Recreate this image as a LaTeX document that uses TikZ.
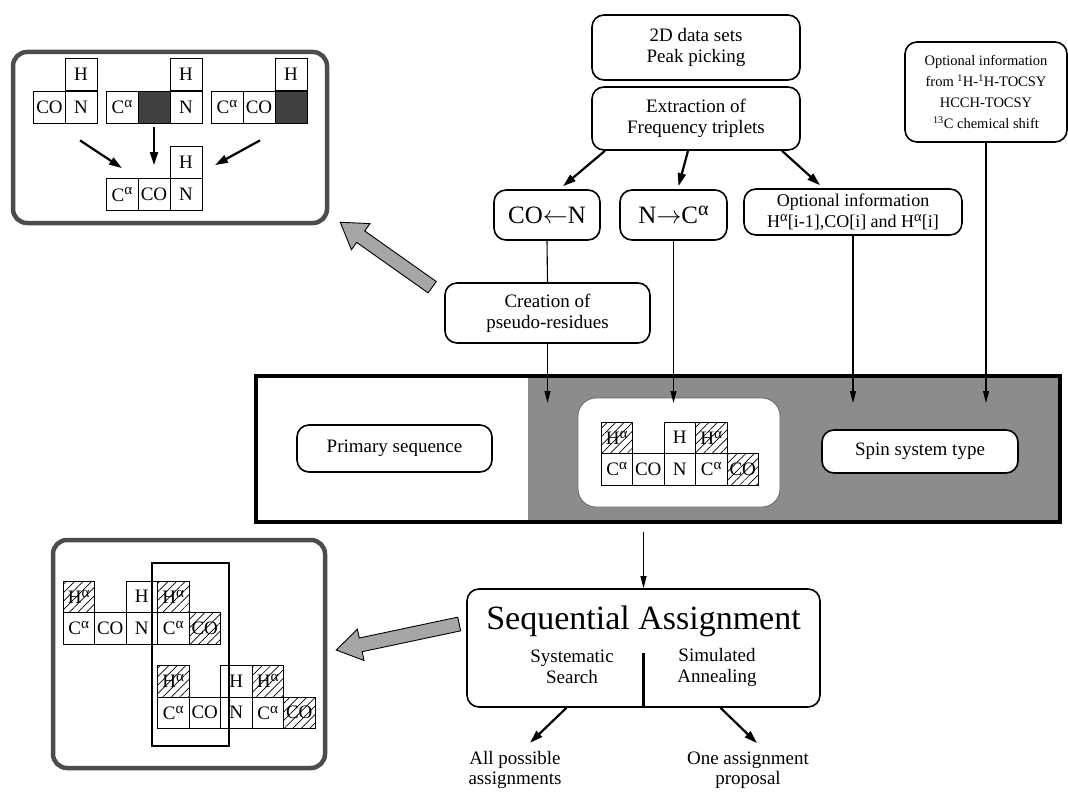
\documentclass[tikz,border=0pt]{standalone}
\usepackage{fontspec}
\setmainfont{Liberation Serif}
\usepackage{amsmath}
\usetikzlibrary{arrows.meta,calc,patterns.meta}

\newcommand{\al}{\raisebox{0.33em}{\scalebox{0.8}{α}}}

\tikzset{
  box/.style={draw, rounded corners=12pt, line width=1.6pt, align=center, inner sep=2pt, font=\fontsize{19}{21}\selectfont},
  cell/.style={draw, line width=0.8pt, minimum size=31.5pt, inner sep=0pt, font=\fontsize{19}{19}\selectfont},
  bigcell/.style={cell, minimum size=32pt},
  hatch/.style={pattern={Lines[angle=45,distance=6pt,line width=0.7pt]}},
  dark/.style={fill=black!75},
  frame/.style={draw=black!70, line width=4.5pt, rounded corners=14pt},
  arr/.style={line width=2.2pt, -{Triangle[length=13pt,width=8pt]}},
  link/.style={line width=1.1pt},
  thinarr/.style={line width=1.1pt, -{Triangle[length=12pt,width=6pt]}},
  fat/.style={draw=black, line width=0.9pt, fill=black!35},
}

% one pseudo-residue strip: prefix, left edge, top edge
\newcommand{\resstrip}[3]{%
  \node[cell,hatch] (#1ha1) at (#2+15.75,#3+15.75) {H\al};
  \node[cell] (#1h) at (#2+78.75,#3+15.75) {H};
  \node[cell,hatch] (#1ha2) at (#2+110.25,#3+15.75) {H\al};
  \node[cell] (#1ca1) at (#2+15.75,#3+47.25) {C\al};
  \node[cell] (#1co1) at (#2+47.25,#3+47.25) {CO};
  \node[cell] (#1n) at (#2+78.75,#3+47.25) {N};
  \node[cell] (#1ca2) at (#2+110.25,#3+47.25) {C\al};
  \node[cell,hatch] (#1co2) at (#2+141.75,#3+47.25) {CO};
}

% broad shaded arrow from #1 (tail) to #2 (tip)
\newcommand{\fatarrow}[2]{%
  \path (#2) coordinate (fh) ($(#2)!25pt!(#1)$) coordinate (fb);
  \filldraw[fat] ($(#1)!7pt!90:(#2)$) -- ($(fb)!7pt!-90:(#1)$) -- ($(fb)!16pt!-90:(#1)$)
    -- (fh) -- ($(fb)!16pt!90:(#1)$) -- ($(fb)!7pt!90:(#1)$) -- ($(#1)!7pt!-90:(#2)$) -- cycle;
}

\begin{document}
\begin{tikzpicture}[x=1pt,y=-1pt]
  \useasboundingbox (0,0) rectangle (1068,792);

  % merging of triplets
  \node[frame, minimum width=314pt, minimum height=171pt] (tlbox) at (170,137.5) {};
  \node[bigcell] (g1h) at (81,74.5) {H};
  \node[bigcell] (g1co) at (49.5,107) {CO};
  \node[bigcell] (g1n) at (81,107) {N};
  \node[bigcell] (g2ca) at (122,107) {C\al};
  \node[bigcell,dark] (g2x) at (154,107) {};
  \node[bigcell] (g2n) at (186,107) {N};
  \node[bigcell] (g2h) at (186,74.5) {H};
  \node[bigcell] (g3ca) at (227,107) {C\al};
  \node[bigcell] (g3co) at (259,107) {CO};
  \node[bigcell,dark] (g3x) at (291,107) {};
  \node[bigcell] (g3h) at (291,74.5) {H};
  \node[bigcell] (g4h) at (186,162.5) {H};
  \node[bigcell] (g4ca) at (122,194.5) {C\al};
  \node[bigcell] (g4co) at (154,194.5) {CO};
  \node[bigcell] (g4n) at (186,194.5) {N};
  \draw[arr] ($(g1n.south)+(-1,17)$) -- ($(g4ca.north)+(0,-10)$);
  \draw[arr] ($(g2x.south)+(0,4)$) -- ($(g4co.north)+(0,-13)$);
  \draw[arr] ($(g3co.south)+(1,17)$) -- ($(g4n.north)+(29,-13)$);

  % data flow
  \node[box, minimum width=208pt, minimum height=65pt] (peak) at (696,47.5) {2D data sets\\Peak picking};
  \node[box, minimum width=208pt, minimum height=63pt] (extr) at (696,118.5) {Extraction of\\Frequency triplets};
  \node[box, minimum width=162pt, minimum height=100pt, font=\fontsize{14.5}{21}\selectfont] (optr) at (986,92)
    {Optional information\\from \textsuperscript{1}H-\textsuperscript{1}H-TOCSY\\HCCH-TOCSY\\\textsuperscript{13}C chemical shift};
  \node[box, minimum width=106pt, minimum height=50pt, font=\fontsize{25}{25}\selectfont] (con) at (547,215) {CO$\leftarrow$N};
  \node[box, minimum width=107pt, minimum height=50pt, font=\fontsize{25}{25}\selectfont] (nca) at (673.5,215) {N$\rightarrow$C\al};
  \node[box, minimum width=218pt, minimum height=46pt, font=\fontsize{18}{21}\selectfont, inner sep=1pt] (opt) at (853,212)
    {Optional information\\H\al[i-1],CO[i] and H\al[i]};
  \node[box, minimum width=205pt, minimum height=60pt] (crea) at (547.5,313) {Creation of\\pseudo-residues};

  \draw[arr] ($(extr.south)+(-91,0)$) -- ($(con.north)+(16,-3)$);
  \draw[arr] ($(extr.south)+(-8,0)$) -- ($(nca.north)+(5,-3)$);
  \draw[arr] ($(extr.south)+(86,0)$) -- ($(opt.north)+(-33,-3)$);
  \draw[link] (con.south) -- (crea.north);

  % input band
  \fill[black!45] (528,376) rectangle (1060,522);
  \node[draw, line width=4pt, minimum width=804pt, minimum height=146pt, inner sep=0pt] (band) at (658,449) {};
  \node[box, minimum width=195pt, minimum height=47pt] (prim) at (394.5,448.5) {Primary sequence};
  \node[draw=black!60, line width=0.8pt, fill=white, rounded corners=18pt, minimum width=202pt, minimum height=109pt] (resbox) at (679,452.5) {};
  \resstrip{m}{601}{422}
  \node[box, fill=white, minimum width=196pt, minimum height=43pt] (spin) at (920,451.5) {Spin system type};

  \coordinate (tip) at (0,403);
  \draw[thinarr] (crea.south) -- (crea.south |- tip);
  \draw[thinarr] (nca.south) -- (nca.south |- tip);
  \draw[thinarr] (opt.south) -- (opt.south |- tip);
  \draw[thinarr] (optr.south) -- (optr.south |- tip);

  % assignment
  \node[box, minimum width=353pt, minimum height=118pt] (seq) at (643.5,648) {};
  \node[font=\fontsize{34}{34}\selectfont] (seqt) at (643.5,621) {Sequential Assignment};
  \node[align=center, font=\fontsize{19}{21}\selectfont] (sys) at (572,667) {Systematic\\Search};
  \node[align=center, font=\fontsize{19}{21}\selectfont] (sim) at (717,667) {Simulated\\Annealing};
  \draw[line width=2.4pt] (seq.south) -- ++(0,-55);
  \draw[thinarr] (band.south -| seq.north) ++(0,8) -- (seq.north);

  \node[align=center, font=\fontsize{19}{20}\selectfont] (allp) at (515,770) {All possible\\assignments};
  \node[align=center, font=\fontsize{19}{20}\selectfont] (onea) at (748,770) {One assignment\\proposal};
  \draw[arr] ($(seq.south)+(-77,0)$) -- ($(allp.north)+(15,-5)$);
  \draw[arr] ($(seq.south)+(77,0)$) -- ($(onea.north)+(9,-5)$);

  % linked pseudo-residues
  \node[frame, minimum width=272pt, minimum height=228pt] (blbox) at (189,654) {};
  \resstrip{a}{63}{581}
  \resstrip{b}{157.5}{665.5}
  \draw[line width=2.6pt] (152,563) rectangle (229,746);

  % broad arrows
  \fatarrow{$(crea.north west)+(-12,5)$}{$(tlbox.south east)+(11,-3)$}
  \fatarrow{$(seq.west)+(-7,-24)$}{$(blbox.east)+(9,-4)$}
\end{tikzpicture}
\end{document}
